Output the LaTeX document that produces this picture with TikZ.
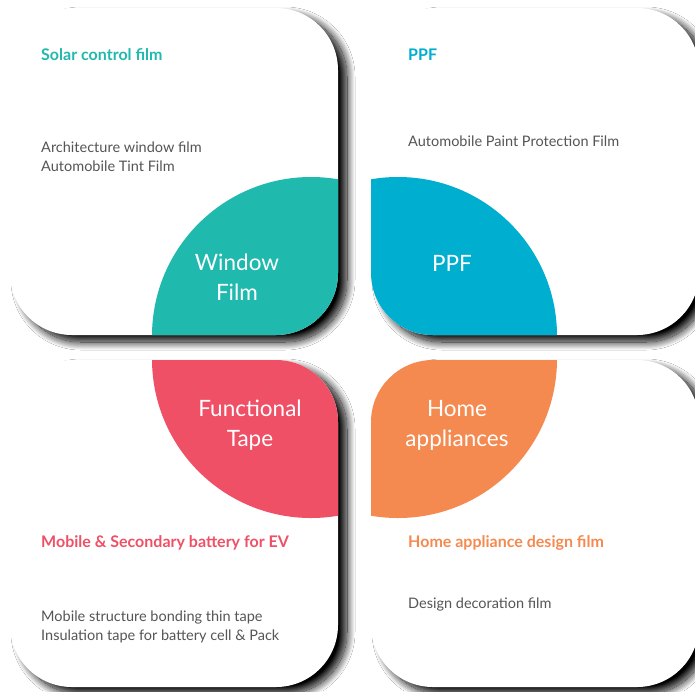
\documentclass[tikz,border=0pt]{standalone}
\usepackage{fontspec}
\setmainfont{Lato}
\usetikzlibrary{shadows.blur,positioning}
\definecolor{WinTeal}{RGB}{32,185,173}
\definecolor{PpfBlue}{RGB}{0,174,208}
\definecolor{TapeRed}{RGB}{239,80,102}
\definecolor{HomeOrange}{RGB}{245,138,80}
\definecolor{BodyGray}{RGB}{85,85,85}

\begin{document}
\begin{tikzpicture}[x=1pt,y=-1pt,
    card/.style={fill=white,rounded corners=62pt,inner sep=0pt,
                 minimum width=328pt,minimum height=327pt,
                 blur shadow={shadow xshift=9pt,shadow yshift=-7pt,
                              shadow blur radius=8pt,shadow blur steps=25,
                              shadow opacity=100}},
    blob/.style={font=\fontsize{22.5}{30}\selectfont,text=white,align=center},
    head/.style={font=\fontsize{16}{19}\selectfont\bfseries,anchor=west,inner sep=0pt},
    body/.style={font=\fontsize{14.5}{19}\selectfont,text=BodyGray,anchor=west,
                 align=left,inner sep=0pt}]
    \path[use as bounding box,fill=white] (0,0) rectangle (695,691);
    % four cards, each with its coloured disc cut by the card
    \node[card,path picture={\fill[WinTeal]
        ([xshift=-27pt,yshift=-1pt]path picture bounding box.south east) circle (159pt);}]
        (windowcard) at (174,171.5) {};
    \node[card,path picture={\fill[PpfBlue]
        ([xshift=27pt,yshift=-1pt]path picture bounding box.south west) circle (159pt);}]
        (ppfcard) at (535,171.5) {};
    \node[card,path picture={\fill[TapeRed]
        ([xshift=-27pt,yshift=1pt]path picture bounding box.north east) circle (159pt);}]
        (tapecard) at (174,523.5) {};
    \node[card,path picture={\fill[HomeOrange]
        ([xshift=27pt,yshift=1pt]path picture bounding box.north west) circle (159pt);}]
        (homecard) at (535,523.5) {};
    % texts
    \node[head,text=WinTeal] (solar) at (41,55) {Solar control film};
    \node[body] (solarbody) at (41,156.5) {Architecture window film\\Automobile Tint Film};
    \node[blob] (window) at (237,277) {Window\\Film};
    \node[head,text=PpfBlue] (ppf) at (408,55) {PPF};
    \node[body] (ppfbody) at (408,141) {Automobile Paint Protection Film};
    \node[blob] (ppflabel) at (452,263) {PPF};
    \node[blob] (tape) at (250,425) {Functional\\Tape};
    \node[head,text=TapeRed] (battery) at (41,543) {Mobile \& Secondary battery for EV};
    \node[body] (batterybody) at (41,627) {Mobile structure bonding thin tape\\Insulation tape for battery cell \& Pack};
    \node[blob] (home) at (457,425) {Home\\appliances};
    \node[head,text=HomeOrange] (design) at (408,543) {Home appliance design film};
    \node[body] (designbody) at (408,604) {Design decoration film};
\end{tikzpicture}
\end{document}
